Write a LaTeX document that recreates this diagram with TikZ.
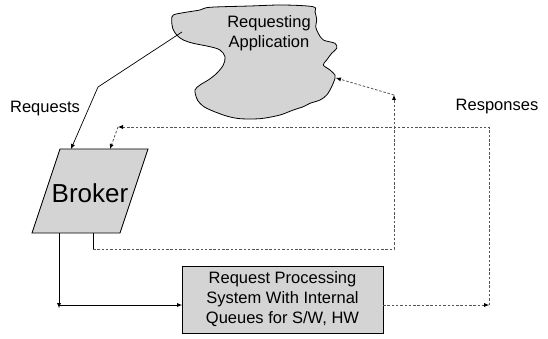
\documentclass[tikz,border=0pt]{standalone}
\usepackage{fontspec}
\setmainfont{Liberation Sans}
\usetikzlibrary{arrows.meta}
\definecolor{shade}{HTML}{D4D4D4}
\definecolor{dashgray}{HTML}{555555}

\begin{document}
\begin{tikzpicture}[x=1pt,y=-1pt,
  solidline/.style={draw=black, line width=0.7pt},
  dashline/.style={draw=dashgray, line width=0.8pt, dash pattern=on 2.5pt off 1.8pt},
  tip/.style={-{Latex[length=5pt,width=4pt,fill=black,line width=0pt]}},
  txt/.style={font=\fontsize{16.5}{20}\selectfont, inner sep=0pt, align=center},
  shapeline/.style={draw=black, line width=0.8pt, fill=shade}
]
\useasboundingbox (0,0) rectangle (548,339);

% requesting application (cloud outline)
\path[shapeline] plot[smooth cycle, tension=0.55] coordinates {
  (210,7.3) (250,6) (283,5) (313,6.7) (315,11.7) (316.7,20) (315.7,26.7)
  (318.3,33.3) (323.3,40) (335,43.3) (336.7,48.3) (331.7,53.3) (326.7,60)
  (323.3,65) (330,70) (335,75) (335,78.3) (331.7,86.7) (326.7,95) (320,100)
  (310,103.3) (303.3,106.7) (293.3,110) (280,115) (263.3,118.3) (250,119)
  (236.7,118.3) (223.3,115) (206.7,108.3) (200,103.3) (196.7,98.3) (195,90)
  (200,85) (208.3,80) (216.7,73.3) (223.3,65) (225,56.7) (220,50) (210,46.7)
  (193.3,43.3) (183.3,40) (176.7,35) (172.7,28.3) (171.7,20) (173.3,15)
  (183.3,12.7) (200,10)};
\node[txt] (app) at (269,33) {Requesting\\Application};
\coordinate (appsrc) at (182,32);
\coordinate (appin) at (336,78);

% broker (parallelogram)
\coordinate (bTL) at (60,149);
\coordinate (bTR) at (148,149);
\coordinate (bBR) at (120,233);
\coordinate (bBL) at (32,233);
\path[shapeline] (bTL) -- (bTR) -- (bBR) -- (bBL) -- cycle;
\node[txt, font=\fontsize{26}{30}\selectfont] (broker) at (90,193) {Broker};

% request processing system
\node[shapeline, txt, minimum width=201pt, minimum height=67pt, inner sep=0pt] (proc) at (282.5,299.5)
  {Request Processing\\System With Internal\\Queues for S/W, HW};

% labels
\node[txt] (lreq) at (45,109) {Requests};
\node[txt] (lresp) at (497,107) {Responses};

% connector points
\coordinate (rq1) at (98,87);
\coordinate (brIn1) at (71,149);
\coordinate (brIn2) at (110,149);
\coordinate (fbCorner) at (118,127);
\coordinate (fbRight) at (489,127);
\coordinate (procIn) at (182,305);
\coordinate (procOutStart) at (383,305);
\coordinate (procOut) at (489,305);
\coordinate (brOut1) at (59,233);
\coordinate (drop1) at (59,308);
\coordinate (brOut2) at (93,233);
\coordinate (drop2) at (93,249);
\coordinate (rsCorner) at (394,249);
\coordinate (rsUp) at (394,95);

% requests: application -> broker
\draw[solidline, tip] (appsrc) -- (rq1) -- (brIn1);

% broker -> processing system
\draw[solidline, tip] (brOut1) -- (drop1);
\draw[solidline, tip] (brOut1 |- procIn) -- (procIn);

% processing system -> broker (responses)
\draw[dashline, tip] (procOutStart) -- (procOut);
\draw[dashline, tip] (procOut) -- (fbRight) -- (fbCorner);
\draw[dashline, tip] (fbCorner) -- (brIn2);

% broker -> application (responses)
\draw[solidline] (brOut2) -- (drop2);
\draw[dashline, tip] (drop2) -- (rsCorner) -- (rsUp);
\draw[dashline, tip] (rsUp) -- (appin);
\end{tikzpicture}
\end{document}
